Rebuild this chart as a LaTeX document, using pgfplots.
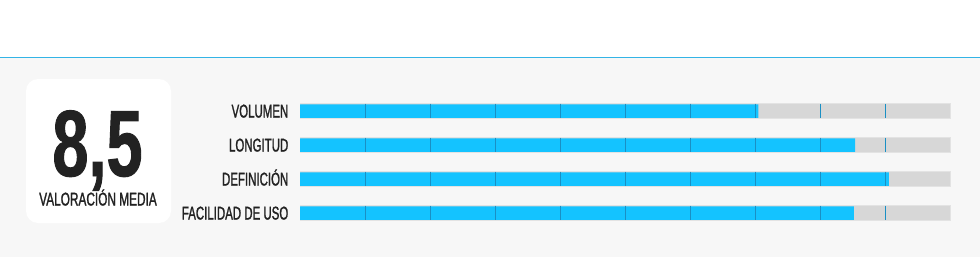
\documentclass[border=0pt]{standalone}
\usepackage{pgfplots}
\pgfplotsset{compat=1.18}
\usepackage{fontspec}
\setmainfont{Liberation Sans}
\newfontfamily\cond[FakeStretch=0.64,FakeBold=1.2]{Liberation Sans}
\newfontfamily\condl[FakeStretch=0.62,FakeBold=1.2]{Liberation Sans}
\newfontfamily\condbold[FakeStretch=0.69,FakeBold=1]{Liberation Sans Bold}
\definecolor{barblue}{HTML}{14C3FF}
\definecolor{tickblue}{HTML}{1A8FC4}
\definecolor{bargray}{HTML}{D7D7D7}
\definecolor{baredge}{HTML}{E3E3E3}
\definecolor{bgc}{HTML}{F7F7F7}
\definecolor{topline}{HTML}{33B4E6}
\definecolor{txt}{HTML}{222222}
\begin{document}
\begin{tikzpicture}
\begin{scope}[x=1pt,y=-1pt]
\path[use as bounding box] (0,0) rectangle (980,257);
\fill[white] (0,0) rectangle (980,57);
\fill[bgc] (0,57) rectangle (980,257);
\draw[topline, line width=1pt] (0,57) -- (980,57);
\fill[white, rounded corners=12pt] (26,79) rectangle (171,223);
\node[anchor=base, inner sep=0pt, text=txt, text depth=0pt] at (97.5,176) {\fontsize{94}{94}\selectfont\condbold 8,5};
\node[anchor=base, inner sep=0pt, text=txt] at (98,205.5) {\fontsize{18.5}{18.5}\selectfont\cond VALORACIÓN MEDIA};
\end{scope}
\begin{axis}[
  at={(300pt,-230pt)}, anchor=south west, scale only axis,
  width=650pt, height=136pt,
  xmin=0, xmax=10, ymin=-0.5, ymax=3.5, y dir=reverse,
  axis line style={draw=none}, xtick=\empty,
  ytick={0,1,2,3},
  yticklabels={VOLUMEN,LONGITUD,DEFINICIÓN,FACILIDAD DE USO},
  major tick length=0pt,
  yticklabel style={font=\fontsize{18.5}{18.5}\selectfont\condl, text=txt, anchor=base east, inner sep=0pt, xshift=-11.5pt, yshift=-6.5pt},
  clip=false,
  unbounded coords=jump,
]
\addplot[xbar, bar width=15pt, bar shift=0pt, fill=bargray, draw=baredge, line width=1pt]
  coordinates {(10,0) (10,1) (10,2) (10,3)};
\addplot[xbar, bar width=13.5pt, bar shift=0pt, fill=barblue, draw=none]
  coordinates {(7.05,0) (8.54,1) (9.06,2) (8.52,3)};
\addplot[tickblue, line width=1pt, mark=none] coordinates {
 (1,-0.22) (1,0.22) (1,nan) (2,-0.22) (2,0.22) (2,nan) (3,-0.22) (3,0.22) (3,nan)
 (4,-0.22) (4,0.22) (4,nan) (5,-0.22) (5,0.22) (5,nan) (6,-0.22) (6,0.22) (6,nan)
 (7,-0.22) (7,0.22) (7,nan) (8,-0.22) (8,0.22) (8,nan) (9,-0.22) (9,0.22) (9,nan)
 (1,0.78) (1,1.22) (1,nan) (2,0.78) (2,1.22) (2,nan) (3,0.78) (3,1.22) (3,nan)
 (4,0.78) (4,1.22) (4,nan) (5,0.78) (5,1.22) (5,nan) (6,0.78) (6,1.22) (6,nan)
 (7,0.78) (7,1.22) (7,nan) (8,0.78) (8,1.22) (8,nan) (9,0.78) (9,1.22) (9,nan)
 (1,1.78) (1,2.22) (1,nan) (2,1.78) (2,2.22) (2,nan) (3,1.78) (3,2.22) (3,nan)
 (4,1.78) (4,2.22) (4,nan) (5,1.78) (5,2.22) (5,nan) (6,1.78) (6,2.22) (6,nan)
 (7,1.78) (7,2.22) (7,nan) (8,1.78) (8,2.22) (8,nan) (9,1.78) (9,2.22) (9,nan)
 (1,2.78) (1,3.22) (1,nan) (2,2.78) (2,3.22) (2,nan) (3,2.78) (3,3.22) (3,nan)
 (4,2.78) (4,3.22) (4,nan) (5,2.78) (5,3.22) (5,nan) (6,2.78) (6,3.22) (6,nan)
 (7,2.78) (7,3.22) (7,nan) (8,2.78) (8,3.22) (8,nan) (9,2.78) (9,3.22)
};
\end{axis}
\end{tikzpicture}
\end{document}
